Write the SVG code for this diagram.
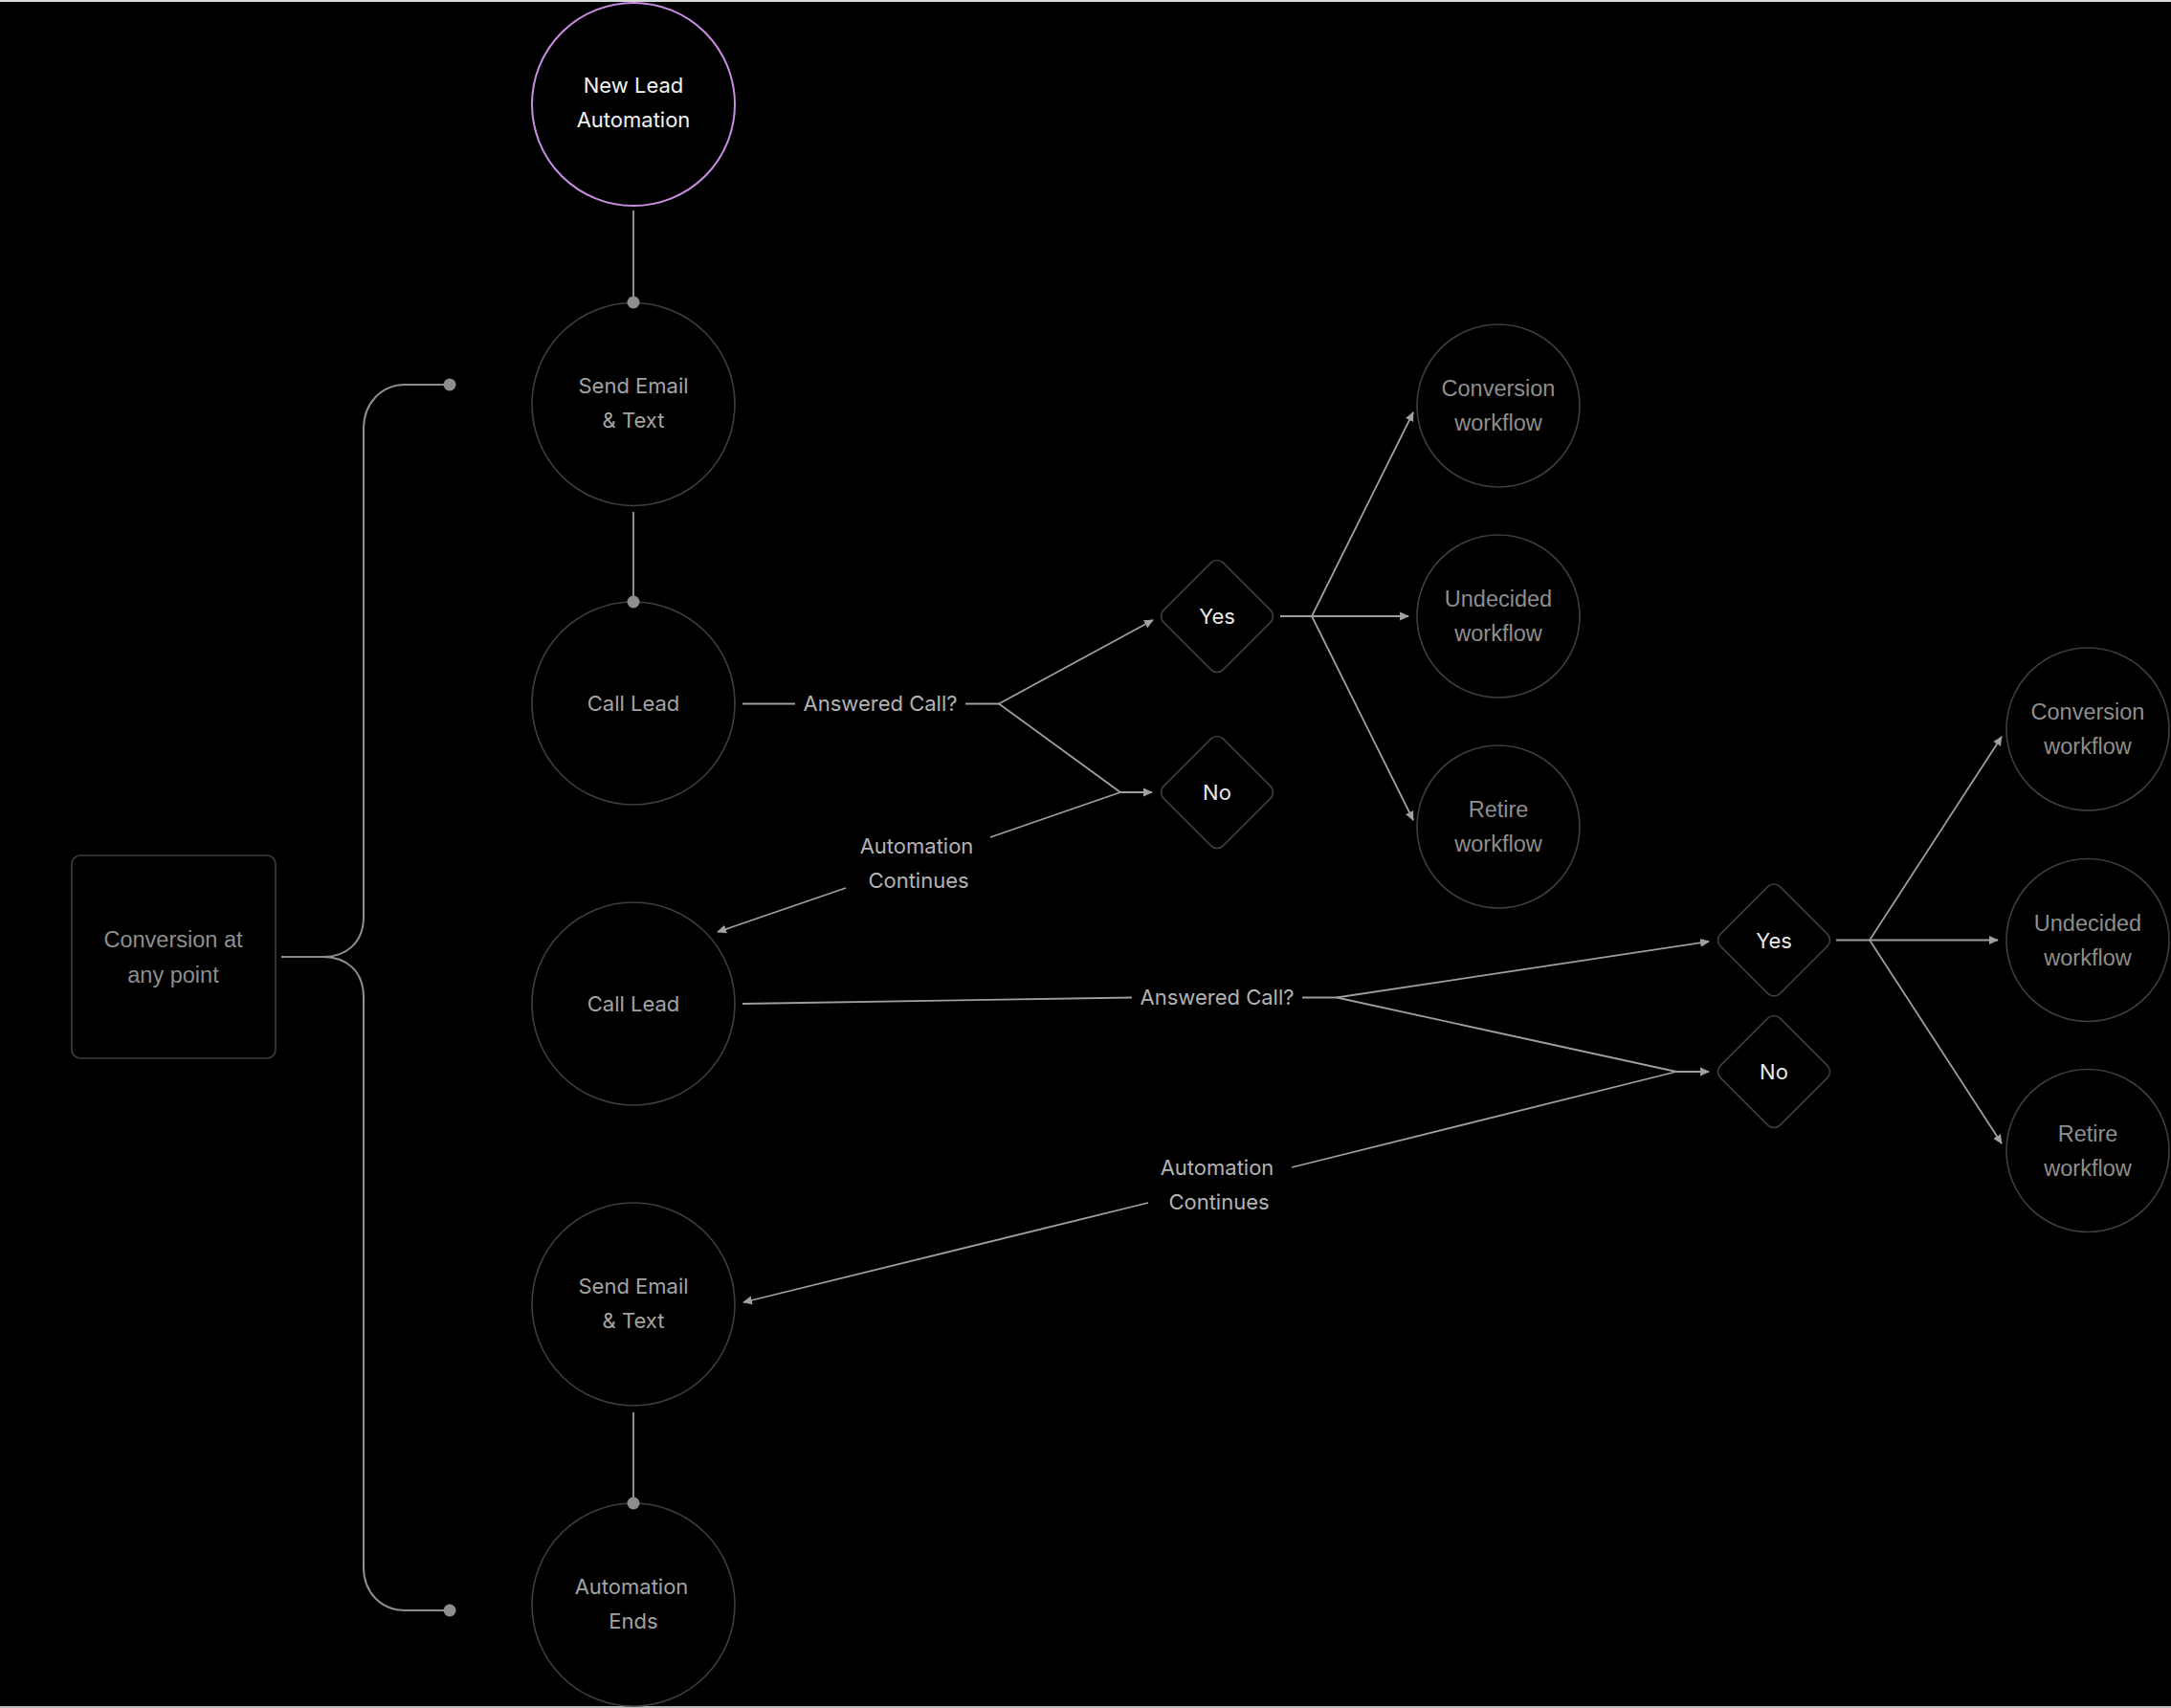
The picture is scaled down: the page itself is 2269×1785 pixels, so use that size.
<svg xmlns="http://www.w3.org/2000/svg" width="2269" height="1785" viewBox="0 0 2269 1785">
<defs>
<style>
.node{fill:none;stroke:#3e3e3e;stroke-width:1.6}
.start{fill:none;stroke:#c98ee3;stroke-width:2}
.t{font-family:Inter,"Noto Sans","Liberation Sans",sans-serif;font-size:22px;text-anchor:middle;fill:#a3a3a3}
.tw{font-family:"Liberation Sans",Arial,sans-serif;font-size:23.5px;text-anchor:middle;fill:#8e8e8e}
.tl{font-family:Inter,"Noto Sans","Liberation Sans",sans-serif;font-size:22px;text-anchor:middle;fill:#b3b3b3}
.tyn{font-family:Inter,"Noto Sans","Liberation Sans",sans-serif;font-size:22px;text-anchor:middle;fill:#e8e8e8}
.c{fill:none;stroke:#9e9e9e;stroke-width:1.8}
.v{fill:none;stroke:#8e8e8e;stroke-width:2}
.dot{fill:#8e8e8e}
</style>
<marker id="ah" markerWidth="10" markerHeight="10" refX="9" refY="5" orient="auto" markerUnits="userSpaceOnUse">
<path d="M0,0.5 L10,5 L0,9.5 Z" fill="#a0a0a0"/>
</marker>
</defs>
<rect x="0" y="0" width="2269" height="1785" fill="#000"/>
<rect x="0" y="0" width="2269" height="2" fill="#d8d8d8"/>
<rect x="0" y="1783" width="2269" height="2" fill="#bdbdbd"/>

<g id="new-lead">
<circle class="start" cx="662" cy="109" r="106"/>
<text class="t" x="662" y="97" style="fill:#f2f2f2">New Lead</text>
<text class="t" x="662" y="133" style="fill:#f2f2f2">Automation</text>
</g>
<g id="send-email-1">
<circle class="node" cx="662" cy="422.5" r="106"/>
<text class="t" x="662" y="411">Send Email</text>
<text class="t" x="662" y="447">&amp; Text</text>
</g>
<g id="call-lead-1">
<circle class="node" cx="662" cy="735" r="106"/>
<text class="t" x="662" y="743">Call Lead</text>
</g>
<g id="call-lead-2">
<circle class="node" cx="662" cy="1049" r="106"/>
<text class="t" x="662" y="1057">Call Lead</text>
</g>
<g id="send-email-2">
<circle class="node" cx="662" cy="1363" r="106"/>
<text class="t" x="662" y="1352">Send Email</text>
<text class="t" x="662" y="1388">&amp; Text</text>
</g>
<g id="automation-ends">
<circle class="node" cx="662" cy="1677" r="106"/>
<text class="t" x="660" y="1666">Automation</text>
<text class="t" x="662" y="1702">Ends</text>
</g>
<g id="conversion-any-point">
<rect class="node" x="75" y="894" width="213" height="212" rx="9"/>
<text class="tw" x="181" y="990">Conversion at</text>
<text class="tw" x="181" y="1027">any point</text>
</g>
<g id="yes-1">
<rect class="node" x="1228" y="600" width="88" height="88" rx="9" transform="rotate(45 1272 644)"/>
<text class="tyn" x="1272" y="652">Yes</text>
</g>
<g id="no-1">
<rect class="node" x="1228" y="784" width="88" height="88" rx="9" transform="rotate(45 1272 828)"/>
<text class="tyn" x="1272" y="836">No</text>
</g>
<g id="conversion-1">
<circle class="node" cx="1566" cy="424" r="85"/>
<text class="tw" x="1566" y="414">Conversion</text>
<text class="tw" x="1566" y="450">workflow</text>
</g>
<g id="undecided-1">
<circle class="node" cx="1566" cy="644" r="85"/>
<text class="tw" x="1566" y="634">Undecided</text>
<text class="tw" x="1566" y="670">workflow</text>
</g>
<g id="retire-1">
<circle class="node" cx="1566" cy="864" r="85"/>
<text class="tw" x="1566" y="854">Retire</text>
<text class="tw" x="1566" y="890">workflow</text>
</g>
<g id="yes-2">
<rect class="node" x="1810" y="938.5" width="88" height="88" rx="9" transform="rotate(45 1854 982.5)"/>
<text class="tyn" x="1854" y="990.5">Yes</text>
</g>
<g id="no-2">
<rect class="node" x="1810" y="1076" width="88" height="88" rx="9" transform="rotate(45 1854 1120)"/>
<text class="tyn" x="1854" y="1128">No</text>
</g>
<g id="conversion-2">
<circle class="node" cx="2182" cy="762" r="85"/>
<text class="tw" x="2182" y="752">Conversion</text>
<text class="tw" x="2182" y="788">workflow</text>
</g>
<g id="undecided-2">
<circle class="node" cx="2182" cy="982.5" r="85"/>
<text class="tw" x="2182" y="972.5">Undecided</text>
<text class="tw" x="2182" y="1008.5">workflow</text>
</g>
<g id="retire-2">
<circle class="node" cx="2182" cy="1202.5" r="85"/>
<text class="tw" x="2182" y="1192.5">Retire</text>
<text class="tw" x="2182" y="1228.5">workflow</text>
</g>

<g id="connectors">
<!-- vertical spine -->
<line class="v" x1="662" y1="220" x2="662" y2="316"/>
<circle class="dot" cx="662" cy="316" r="6.5"/>
<line class="v" x1="662" y1="535" x2="662" y2="629"/>
<circle class="dot" cx="662" cy="629" r="6.5"/>
<line class="v" x1="662" y1="1476" x2="662" y2="1571"/>
<circle class="dot" cx="662" cy="1571" r="6.5"/>
<!-- bracket -->
<path class="v" d="M294 1000 H338 C362 1000 380 985 380 958 V448 C380 422 398 402 424 402 H470"/>
<path class="v" d="M338 1000 C362 1000 380 1015 380 1042 V1638 C380 1664 398 1683 424 1683 H470"/>
<circle class="dot" cx="470" cy="402" r="6.5"/>
<circle class="dot" cx="470" cy="1683" r="6.5"/>
<!-- level 1 -->
<line class="c" x1="776" y1="735.5" x2="831" y2="735.5"/>
<polyline class="c" points="1009,735.5 1044,735.5"/>
<line class="c" x1="1044" y1="735.5" x2="1205" y2="648" marker-end="url(#ah)"/>
<polyline class="c" points="1044,735.5 1171,828 1204,828" marker-end="url(#ah)"/>
<line class="c" x1="1035" y1="875" x2="1171" y2="828"/>
<line class="c" x1="884" y1="928" x2="750" y2="974" marker-end="url(#ah)"/>
<line class="c" x1="1338" y1="644" x2="1371" y2="644"/>
<line class="c" x1="1371" y1="644" x2="1477" y2="431" marker-end="url(#ah)"/>
<line class="c" x1="1371" y1="644" x2="1472" y2="644" marker-end="url(#ah)"/>
<line class="c" x1="1371" y1="644" x2="1477" y2="857" marker-end="url(#ah)"/>
<!-- level 2 -->
<line class="c" x1="776" y1="1049" x2="1183" y2="1042.5"/>
<line class="c" x1="1361" y1="1042.5" x2="1397" y2="1042.5"/>
<line class="c" x1="1397" y1="1042.5" x2="1786" y2="984" marker-end="url(#ah)"/>
<polyline class="c" points="1397,1042.5 1752,1120 1786,1120" marker-end="url(#ah)"/>
<line class="c" x1="1350" y1="1220" x2="1752" y2="1120"/>
<line class="c" x1="1200" y1="1257" x2="777" y2="1361" marker-end="url(#ah)"/>
<line class="c" x1="1919" y1="982.5" x2="1954" y2="982.5"/>
<line class="c" x1="1954" y1="982.5" x2="2092" y2="770" marker-end="url(#ah)"/>
<line class="c" x1="1954" y1="982.5" x2="2088" y2="982.5" marker-end="url(#ah)"/>
<line class="c" x1="1954" y1="982.5" x2="2092" y2="1195" marker-end="url(#ah)"/>
<!-- edge labels -->
<text class="tl" x="920" y="743">Answered Call?</text>
<text class="tl" x="958" y="892">Automation</text>
<text class="tl" x="960" y="928">Continues</text>
<text class="tl" x="1272" y="1050">Answered Call?</text>
<text class="tl" x="1272" y="1228">Automation</text>
<text class="tl" x="1274" y="1264">Continues</text>
</g>
</svg>
